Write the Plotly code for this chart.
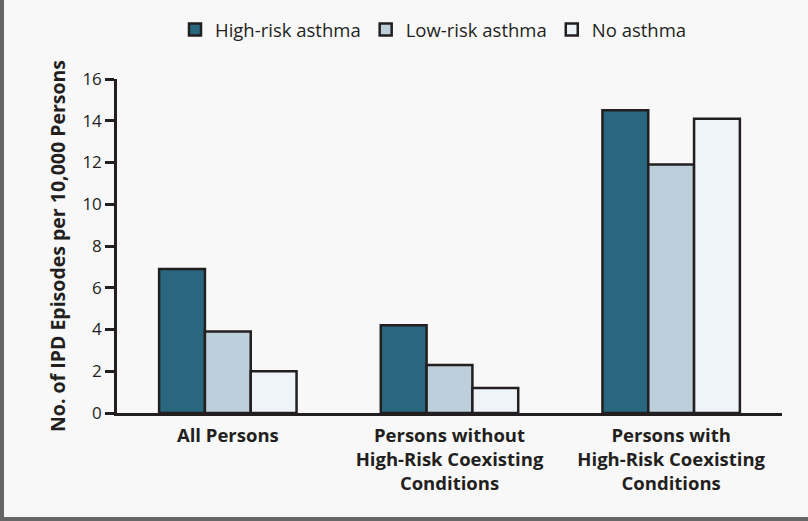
import plotly.graph_objects as go

categories = ["All Persons", "Persons without<br>High-Risk Coexisting<br>Conditions",
              "Persons with<br>High-Risk Coexisting<br>Conditions"]
series_names = ["High-risk asthma", "Low-risk asthma", "No asthma"]
high_risk = [6.9, 4.2, 14.5]
low_risk = [3.9, 2.3, 11.9]
no_asthma = [2.0, 1.2, 14.1]
y_ticks = [0, 2, 4, 6, 8, 10, 12, 14, 16]

colors = ["#29677f", "#bccfda", "#eff4f8"]
FONT = "Open Sans"
BG = "#f8f8f8"
INK = "#231f20"

fig = go.Figure()
for name, vals, col in zip(series_names, [high_risk, low_risk, no_asthma], colors):
    fig.add_trace(go.Bar(
        x=categories, y=vals, name=name,
        marker=dict(color=col, line=dict(color=INK, width=2.5)),
    ))

fig.update_layout(
    width=808, height=521,
    margin=dict(l=117, r=26, t=79, b=108, autoexpand=False),
    paper_bgcolor=BG, plot_bgcolor=BG,
    barmode="group", bargap=0.38, bargroupgap=0,
    font=dict(family=FONT, color=INK, size=16),
    showlegend=True,
    legend=dict(orientation="h", xref="container", yref="container",
                x=175 / 808, xanchor="left", y=1 - 11 / 521, yanchor="top",
                font=dict(family=FONT, size=18.5, color=INK),
                bgcolor="rgba(0,0,0,0)", itemwidth=30, traceorder="normal"),
    xaxis=dict(showline=True, linecolor=INK, linewidth=2.5, ticks="",
               range=[-0.5, 2.5], ticklabelstandoff=4,
               tickfont=dict(family=FONT, size=18.5, color=INK, weight="bold"),
               showgrid=False, zeroline=False),
    yaxis=dict(range=[0, 16], tickvals=y_ticks, showline=True, linecolor=INK,
               linewidth=2.5, ticks="outside", ticklen=9, tickwidth=2.5, tickcolor=INK,
               tickfont=dict(family=FONT, size=17, color=INK),
               showgrid=False, zeroline=False,
               title=dict(text="No. of IPD Episodes per 10,000 Persons",
                          font=dict(family=FONT, size=19.5, color=INK, weight="bold"),
                          standoff=12)),
    shapes=[
        dict(type="line", xref="paper", yref="paper",
             x0=(2 - 117) / 665, x1=(2 - 117) / 665, y0=1 + 79 / 334, y1=-(519 - 413) / 334,
             line=dict(color="#666666", width=4)),
        dict(type="line", xref="paper", yref="paper",
             x0=(0 - 117) / 665, x1=(808 - 117) / 665, y0=-(519 - 413) / 334, y1=-(519 - 413) / 334,
             line=dict(color="#666666", width=4)),
    ],
)

fig.write_html("out.html")
